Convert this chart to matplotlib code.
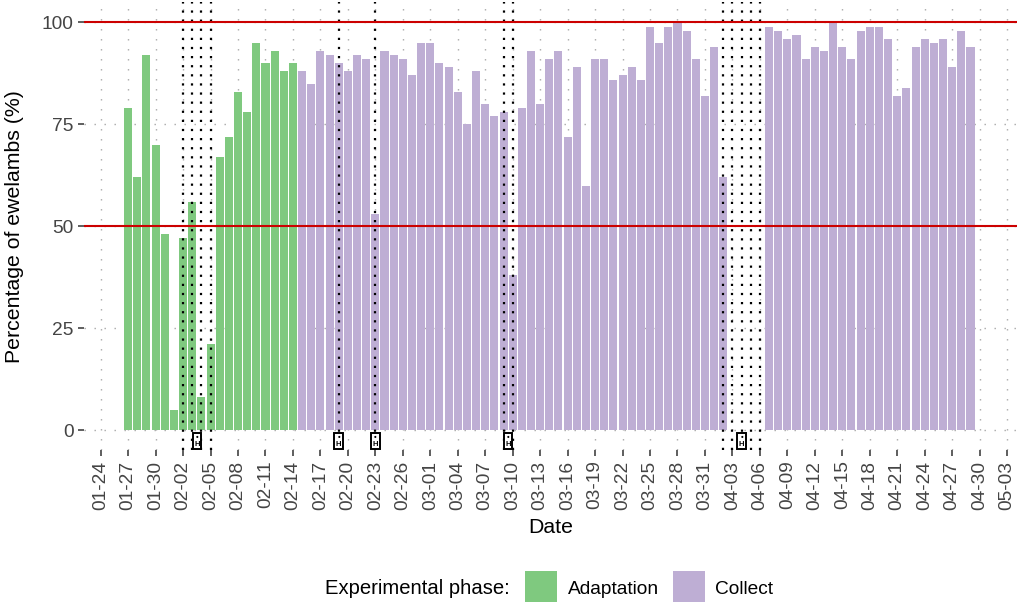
import matplotlib
matplotlib.use("Agg")
import matplotlib.pyplot as plt
import matplotlib.dates as mdates
from matplotlib.patches import Rectangle
import pandas as pd
import numpy as np

plt.rcParams['font.family'] = ['Liberation Sans', 'DejaVu Sans']

YEAR = 2019

# ---------------- data ----------------
adaptation_start, adaptation_end = "01-27", "02-14"
adaptation_pct = [79, 62, 92, 70, 48, 5, 47, 56, 8, 21, 67, 72, 83, 78, 95, 90, 93, 88, 90]

collect1_start, collect1_end = "02-15", "04-02"
collect1_pct = [88, 85, 93, 92, 90, 88, 92, 91, 53, 93, 92, 91, 87, 95,
                95, 90, 89, 83, 75, 88, 80, 77, 78, 38, 79, 93, 80, 91, 93, 72,
                89, 60, 91, 91, 86, 87, 89, 86, 99, 95, 99, 100, 98, 91, 82,
                94, 62]
collect2_start, collect2_end = "04-07", "04-29"
collect2_pct = [99, 98, 96, 97, 91, 94, 93, 100, 94, 91, 98, 99, 99, 96, 82, 84,
                94, 96, 95, 96, 89, 98, 94]

event_days = ["02-02", "02-03", "02-04", "02-05", "02-19", "02-23",
              "03-09", "03-10", "04-02", "04-03", "04-04", "04-05", "04-06"]
event_groups = [("02-02", "02-05"), ("02-19", "02-19"), ("02-23", "02-23"),
                ("03-09", "03-10"), ("04-02", "04-06")]

threshold_lines = [50, 100]
tick_start, tick_end = "01-24", "05-03"
y_ticks = [0, 25, 50, 75, 100]

phase_labels = ["Adaptation", "Collect"]
phase_colors = ["#7FC97F", "#BEAED4"]


def d(s):
    return pd.Timestamp(f"{YEAR}-{s}")


def drange(a, b):
    return pd.date_range(d(a), d(b), freq="D")


adapt_dates = drange(adaptation_start, adaptation_end)
collect_dates = drange(collect1_start, collect1_end).append(drange(collect2_start, collect2_end))
collect_pct = collect1_pct + collect2_pct

# ---------------- figure ----------------
W, H = 1017, 602
fig = plt.figure(figsize=(W / 100, H / 100), dpi=100)
ax_left, ax_right, ax_top, ax_bot = 84, 1017, 2, 450.4
ax = fig.add_axes([ax_left / W, 1 - ax_bot / H, (ax_right - ax_left) / W, (ax_bot - ax_top) / H])

ax.set_axisbelow(True)
ax.grid(True, color="#a8a8a8", linestyle=(0, (1, 6.2)), linewidth=1.0)

ax.bar(mdates.date2num(adapt_dates), adaptation_pct, width=0.88, color=phase_colors[0], zorder=2)
ax.bar(mdates.date2num(collect_dates), collect_pct, width=0.88, color=phase_colors[1], zorder=2)

for e in event_days:
    ax.axvline(mdates.date2num(d(e)), color="black", linestyle=(0, (1, 3.1)), linewidth=1.6, zorder=3)

for yv in threshold_lines:
    ax.axhline(yv, color="#CC0000", linewidth=1.5, zorder=4)

for a, b in event_groups:
    xm = (mdates.date2num(d(a)) + mdates.date2num(d(b))) / 2
    ax.text(xm, -2.7, "•\nH", fontsize=5.5, ha="center", va="center", fontweight="bold",
            linespacing=0.85,
            bbox=dict(boxstyle="square,pad=0.2", fc="white", ec="black", lw=1.4), zorder=5)

x0 = mdates.date2num(d(tick_start))
ax.set_xlim(x0 - 1.82, x0 + 100.08)
ax.set_ylim(-5, 105.03)

ticks = pd.date_range(d(tick_start), d(tick_end), freq="3D")
ax.set_xticks(mdates.date2num(ticks))
ax.xaxis.set_major_formatter(mdates.DateFormatter("%m-%d"))
ax.set_yticks(y_ticks)
ax.tick_params(axis="x", labelrotation=90, labelsize=13.8, labelcolor="#444444",
               length=4.3, width=1.1, color="#333333", pad=3)
ax.tick_params(axis="y", labelsize=13.8, labelcolor="#444444",
               length=4.3, width=1.1, color="#333333", pad=3)
for s in ax.spines.values():
    s.set_visible(False)

ax.set_xlabel("Date", fontsize=15.3, labelpad=6)
ax.set_ylabel("Percentage of ewelambs (%)", fontsize=15.3)
ax.yaxis.set_label_coords((24 - ax_left) / (ax_right - ax_left), 0.5)

# legend
fig.text(325 / W, 1 - 589 / H, "Experimental phase:", fontsize=14.6, ha="left", va="center")
key_x = [525, 673]
text_x = [568, 715]
for kx, tx, c, lab in zip(key_x, text_x, phase_colors, phase_labels):
    fig.add_artist(Rectangle((kx / W, 1 - 604 / H), 32 / W, 33 / H, transform=fig.transFigure,
                             facecolor=c, edgecolor="none"))
    fig.text(tx / W, 1 - 589 / H, lab, fontsize=13.8, ha="left", va="center")

fig.savefig("out.png", dpi=100)
